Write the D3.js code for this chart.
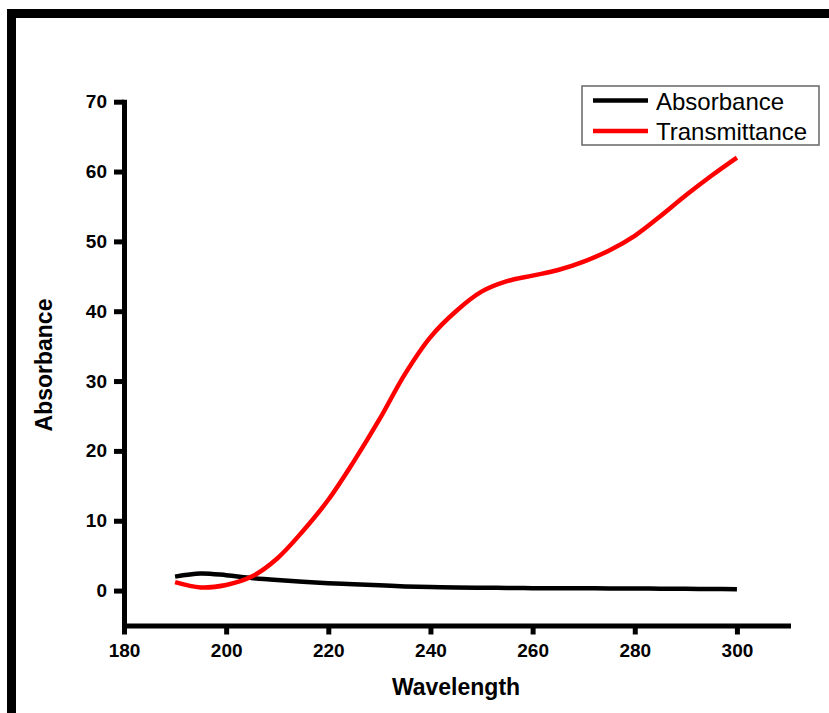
<!DOCTYPE html>
<html><head><meta charset="utf-8">
<script src="https://cdn.jsdelivr.net/npm/d3@7"></script>
<style>body{margin:0;background:#fff}svg{display:block}</style>
</head><body>
<svg id="c" width="829" height="713"></svg>
<script>
const wavelengths = [190,195,200,205,210,215,220,225,230,235,240,245,250,255,260,265,270,275,280,285,290,295,300];
const absorbance  = [2.0,2.45,2.2,1.8,1.5,1.25,1.05,0.9,0.75,0.6,0.5,0.45,0.4,0.38,0.35,0.35,0.33,0.3,0.3,0.27,0.25,0.22,0.2];
const transmittance = [1.2,0.45,0.8,2.0,4.6,8.5,13.0,18.5,24.5,31.0,36.3,40.0,42.8,44.3,45.1,45.9,47.1,48.7,50.8,53.6,56.6,59.4,62.0];
const xTicks = [180,200,220,240,260,280,300];
const yTicks = [0,10,20,30,40,50,60,70];
const seriesNames = ["Absorbance","Transmittance"];
const seriesColors = ["#000000","#ff0000"];
const xTitle = "Wavelength", yTitle = "Absorbance";

const svg = d3.select("#c");
const font = "Arial, 'Liberation Sans', Helvetica, sans-serif";

// frame
svg.append("rect").attr("x",7).attr("y",9).attr("width",829-7).attr("height",9).attr("fill","#000");
svg.append("rect").attr("x",7).attr("y",9).attr("width",9).attr("height",713-9).attr("fill","#000");

const x = d3.scaleLinear().domain([180,310]).range([124,788]);
const y = d3.scaleLinear().domain([-5,70]).range([625.5,101.7]);

const xAxis = svg.append("g").attr("transform",`translate(0,${y(-5)})`)
  .call(d3.axisBottom(x).tickValues(xTicks).tickSize(9).tickSizeOuter(0).tickPadding(9));
const yAxis = svg.append("g").attr("transform",`translate(${x(180)},0)`)
  .call(d3.axisLeft(y).tickValues(yTicks).tickSize(10).tickSizeOuter(0).tickPadding(7));
[xAxis,yAxis].forEach(g=>{
  g.select(".domain").attr("stroke","#000").attr("stroke-width",5).attr("stroke-linecap","square");
  g.selectAll(".tick line").attr("stroke","#000").attr("stroke-width",5);
  g.selectAll(".tick text").attr("fill","#000").style("font-family",font).style("font-weight","bold").style("font-size","19px");
});

const line = d3.line().x(d=>x(d[0])).y(d=>y(d[1])).curve(d3.curveCatmullRom.alpha(0.5));
[absorbance, transmittance].forEach((vals,i)=>{
  svg.append("path").datum(wavelengths.map((w,j)=>[w,vals[j]]))
    .attr("d",line).attr("fill","none").attr("stroke",seriesColors[i]).attr("stroke-width",4.5);
});

// titles
svg.append("text").attr("x",456).attr("y",695).attr("text-anchor","middle")
  .style("font-family",font).style("font-weight","bold").style("font-size","23px").text(xTitle);
svg.append("text").attr("transform","translate(52,365) rotate(-90)").attr("text-anchor","middle")
  .style("font-family",font).style("font-weight","bold").style("font-size","23px").text(yTitle);

// legend
svg.append("rect").attr("x",582).attr("y",86).attr("width",237).attr("height",59)
  .attr("fill","#fff").attr("stroke","#666").attr("stroke-width",1.5);
seriesNames.forEach((n,i)=>{
  const ly = 100.5 + i*30.5;
  svg.append("line").attr("x1",593).attr("x2",648).attr("y1",ly).attr("y2",ly)
    .attr("stroke",seriesColors[i]).attr("stroke-width",4.5);
  svg.append("text").attr("x",656).attr("y",ly+9).style("font-family",font).style("font-size","24px").attr("fill","#000").text(n);
});
</script>
</body></html>
